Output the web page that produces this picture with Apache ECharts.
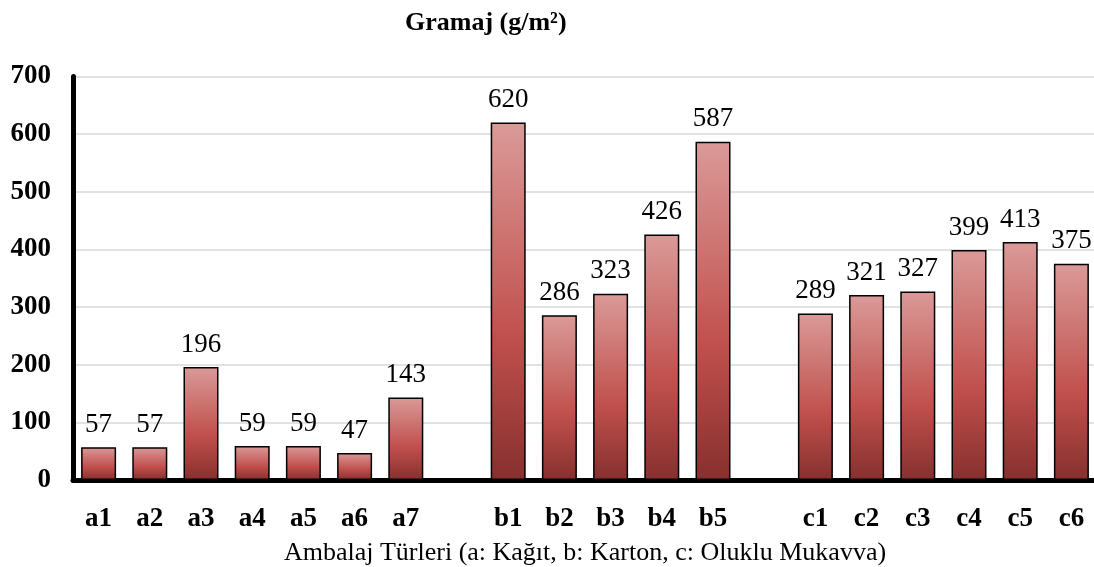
<!DOCTYPE html>
<html>
<head>
<meta charset="utf-8">
<script src="https://cdn.jsdelivr.net/npm/echarts@6/dist/echarts.min.js"></script>
<style>
html,body{margin:0;padding:0;background:#fff;}
#chart{width:1094px;height:567px;}
</style>
</head>
<body>
<div id="chart"></div>
<script>
var groupA = ['a1','a2','a3','a4','a5','a6','a7'];
var valuesA = [57, 57, 196, 59, 59, 47, 143];
var groupB = ['b1','b2','b3','b4','b5'];
var valuesB = [620, 286, 323, 426, 587];
var groupC = ['c1','c2','c3','c4','c5','c6'];
var valuesC = [289, 321, 327, 399, 413, 375];
var yTicks = [0, 100, 200, 300, 400, 500, 600, 700];
var titleText = 'Gramaj (g/m²)';
var xAxisName = 'Ambalaj Türleri (a: Kağıt, b: Karton, c: Oluklu Mukavva)';

var categories = groupA.concat([' '], groupB, ['  '], groupC);
var values = valuesA.concat(['-'], valuesB, ['-'], valuesC);

var serif = '"Liberation Serif", "Times New Roman", serif';
var chart = echarts.init(document.getElementById('chart'));
chart.setOption({
  animation: false,
  backgroundColor: '#ffffff',
  title: {
    text: titleText,
    left: 400,
    top: 5,
    textStyle: {fontFamily: serif, fontWeight: 'bold', fontSize: 26, color: '#000'}
  },
  grid: {left: 73, right: -3, top: 76.5, bottom: 87, containLabel: false, outerBoundsMode: 'none'},
  xAxis: {
    type: 'category',
    data: categories,
    axisTick: {show: false},
    axisLine: {lineStyle: {color: '#000', width: 5}},
    axisLabel: {fontFamily: serif, fontWeight: 'bold', fontSize: 27, color: '#000', margin: 26, interval: 0},
    name: xAxisName,
    nameLocation: 'middle',
    nameGap: 60,
    nameTextStyle: {fontFamily: serif, fontSize: 26, color: '#000'}
  },
  yAxis: {
    type: 'value',
    min: yTicks[0],
    max: yTicks[yTicks.length - 1],
    interval: 100,
    axisLine: {show: true, lineStyle: {color: '#000', width: 5}},
    axisTick: {show: false},
    splitLine: {lineStyle: {color: '#d9d9d9', width: 1.5}},
    axisLabel: {fontFamily: serif, fontWeight: 'bold', fontSize: 27, color: '#000', margin: 22}
  },
  series: [{
    type: 'bar',
    data: values,
    barWidth: 35,
    itemStyle: {
      borderColor: '#000',
      borderWidth: 1.5,
      color: new echarts.graphic.LinearGradient(0, 0, 0, 1, [
        {offset: 0, color: '#DA9A98'},
        {offset: 0.6, color: '#C0504D'},
        {offset: 1, color: '#86302E'}
      ])
    },
    label: {
      show: true,
      position: 'top',
      distance: 9,
      fontFamily: serif,
      fontSize: 27,
      color: '#000'
    }
  }]
});
</script>
</body>
</html>
